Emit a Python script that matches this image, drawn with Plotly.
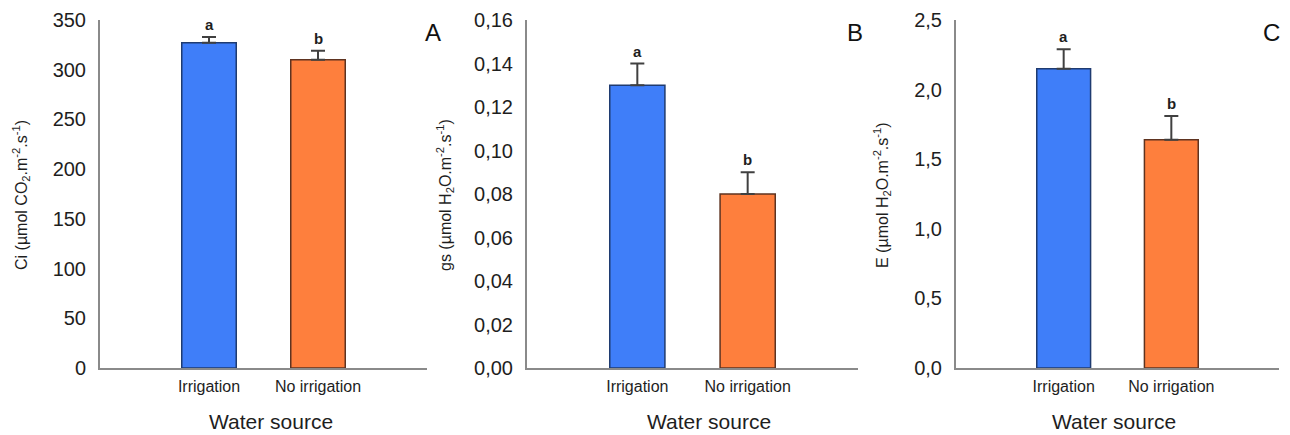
import plotly.graph_objects as go

# Treatments (x categories)
categories = ["Irrigation", "No irrigation"]
positions = [0, 1]

# Intercellular CO2 concentration (Ci)
ci_mean = [327, 310]
ci_err = [6, 9]
ci_letters = ["a", "b"]

# Stomatal conductance (gs)
gs_mean = [0.130, 0.080]
gs_err = [0.010, 0.010]
gs_letters = ["a", "b"]

# Transpiration (E)
e_mean = [2.15, 1.64]
e_err = [0.14, 0.17]
e_letters = ["a", "b"]

bar_colors = ["#3f7ef9", "#fe7f3d"]
edge_colors = ["#1f3b70", "#5e3320"]
font_family = "Liberation Sans, Arial, sans-serif"
W, H = 1290, 435

panels = [
    dict(mean=ci_mean, err=ci_err, letters=ci_letters, dom=[100, 427], yr=[0, 350], dtick=50,
         fmt="d", title="Ci (µmol CO<sub>2</sub>.m<sup>-2</sup>.s<sup>-1</sup>)", tx=21,
         tag="A", tagx=433, xtx=271),
    dict(mean=gs_mean, err=gs_err, letters=gs_letters, dom=[527, 858], yr=[0, 0.16], dtick=0.02,
         fmt=".2f", title="gs (µmol H<sub>2</sub>O.m<sup>-2</sup>.s<sup>-1</sup>)", tx=445,
         tag="B", tagx=855, xtx=709),
    dict(mean=e_mean, err=e_err, letters=e_letters, dom=[956, 1279], yr=[0, 2.5], dtick=0.5,
         fmt=".1f", title="E (µmol H<sub>2</sub>O.m<sup>-2</sup>.s<sup>-1</sup>)", tx=882,
         tag="C", tagx=1271, xtx=1114),
]

y_top_px, y_bot_px = 20, 368
y_dom = [(H - y_bot_px) / H, (H - y_top_px) / H]

fig = go.Figure()
annotations = []
layout = {}

for i, p in enumerate(panels, start=1):
    xa = "x" if i == 1 else f"x{i}"
    ya = "y" if i == 1 else f"y{i}"
    fig.add_trace(go.Bar(
        x=positions, y=p["mean"], width=0.5,
        marker=dict(color=bar_colors, line=dict(color=edge_colors, width=1.5)),
        error_y=dict(type="data", array=p["err"], arrayminus=[0, 0], symmetric=False,
                     color="#404040", thickness=2, width=7),
        xaxis=xa, yaxis=ya, showlegend=False,
    ))
    xkey = "xaxis" if i == 1 else f"xaxis{i}"
    ykey = "yaxis" if i == 1 else f"yaxis{i}"
    layout[xkey] = dict(
        domain=[p["dom"][0] / W, p["dom"][1] / W], range=[-1, 2], anchor=ya,
        tickvals=positions, ticktext=categories, showgrid=False, zeroline=False,
        showline=True, linecolor="#8a8a8a", linewidth=2,
        ticks="outside", ticklen=3, tickcolor="rgba(0,0,0,0)",
        tickfont=dict(family=font_family, size=16, color="#1e1e1e"),
    )
    layout[ykey] = dict(
        domain=y_dom, range=p["yr"], anchor=xa, dtick=p["dtick"], tick0=0,
        tickformat=p["fmt"], showgrid=False, zeroline=False,
        showline=True, linecolor="#8a8a8a", linewidth=2,
        ticks="outside", ticklen=8, tickcolor="rgba(0,0,0,0)",
        tickfont=dict(family=font_family, size=20, color="#1e1e1e"),
    )
    # significance letters above each error bar
    for xv, m, e, lt in zip(positions, p["mean"], p["err"], p["letters"]):
        annotations.append(dict(x=xv, y=m + e, xref=xa, yref=ya, text=f"<b>{lt}</b>",
                                showarrow=False, yanchor="bottom", yshift=2,
                                font=dict(family=font_family, size=15, color="#1e1e1e")))
    # y-axis title
    annotations.append(dict(x=p["tx"] / W, y=(H - 195) / H, xref="paper", yref="paper",
                            text=p["title"], textangle=-90, showarrow=False,
                            xanchor="center", yanchor="middle",
                            font=dict(family=font_family, size=16, color="#1e1e1e")))
    # x-axis title
    annotations.append(dict(x=p["xtx"] / W, y=(H - 421) / H,
                            xref="paper", yref="paper", text="Water source", showarrow=False,
                            xanchor="center", yanchor="middle",
                            font=dict(family=font_family, size=21, color="#1e1e1e")))
    # panel tag
    annotations.append(dict(x=p["tagx"] / W, y=(H - 32) / H, xref="paper", yref="paper",
                            text=p["tag"], showarrow=False, xanchor="center", yanchor="middle",
                            font=dict(family=font_family, size=24, color="#111111")))

fig.update_layout(
    width=W, height=H, autosize=False,
    margin=dict(l=0, r=0, t=0, b=0, pad=0, autoexpand=False),
    paper_bgcolor="white", plot_bgcolor="white",
    separators=",.",
    annotations=annotations,
    **layout,
)

fig.write_html("out.html")
